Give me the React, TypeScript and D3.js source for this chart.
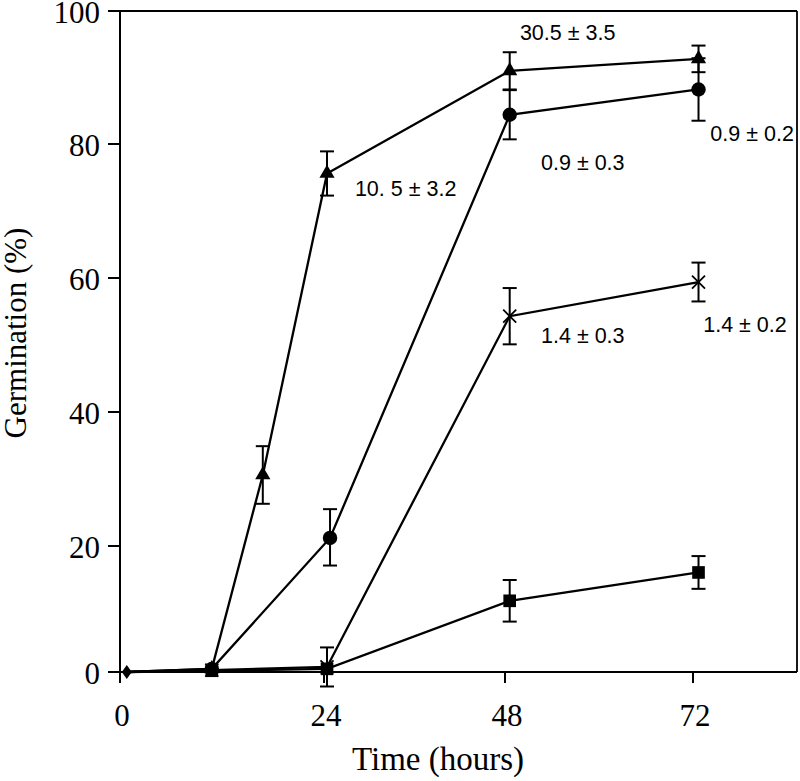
import React from 'react';
import * as d3 from 'd3';

// ---- data ----
const yTicks = [0, 20, 40, 60, 80, 100];
const xTicks = [0, 24, 48, 72];

const startHour = 0.8;
const startValue = 0;

const triHours = [0.8, 10.8, 16.8, 24.4, 48.6, 72.7];
const triValues = [0, 0.5, 30.6, 75.6, 91.0, 92.8];
const triErrors = [0, 0, 4.3, 3.3, 2.8, 2.0];

const hours = [0.8, 10.8, 24.4, 48.6, 72.7];
const circleHours = [0.8, 10.8, 24.8, 48.6, 72.7];
const circleValues = [0, 0.5, 21.2, 84.4, 88.2];
const circleErrors = [0, 0, 4.3, 3.7, 4.7];
const crossValues = [0, 0.3, 0.8, 54.3, 59.4];
const crossErrors = [0, 0, 3.1, 4.2, 2.9];
const squareValues = [0, 0.2, 0.5, 11.3, 15.8];
const squareErrors = [0, 0, 0, 3.3, 2.6];

const annoText = ['30.5 ± 3.5', '10. 5 ± 3.2', '0.9 ± 0.3', '0.9 ± 0.2', '1.4 ± 0.3', '1.4 ± 0.2'];
const annoHour = [49.9, 28.1, 52.6, 74.2, 52.6, 73.3];
const annoValue = [95.6, 72.2, 76.1, 80.5, 50.3, 51.9];

const xTitle = 'Time (hours)';
const yTitle = 'Germination (%)';

// ---- layout ----
const W = 800;
const H = 781;
const x = d3.scaleLinear().domain([0, 24, 48, 72, 85.2]).range([120, 324, 505, 693, 797]);
const y = d3.scaleLinear().domain([0, 20, 40, 60, 80, 100]).range([672, 546, 412, 278, 144, 11]);

type Pt = { h: number; v: number; e: number };
const zip = (hs: number[], vs: number[], es: number[]): Pt[] => hs.map((h, i) => ({ h, v: vs[i], e: es[i] }));

const series = [
  { key: 'tri', shape: 'triangle', pts: zip(triHours, triValues, triErrors) },
  { key: 'circle', shape: 'circle', pts: zip(circleHours, circleValues, circleErrors) },
  { key: 'cross', shape: 'cross', pts: zip(hours, crossValues, crossErrors) },
  { key: 'square', shape: 'square', pts: zip(hours, squareValues, squareErrors) },
];

const line = d3.line<Pt>().x(d => x(d.h)).y(d => y(d.v));
const triPath = d3.symbol().type(d3.symbolTriangle).size(100)() as string;
const sqPath = d3.symbol().type(d3.symbolSquare).size(160)() as string;

function Marker({ shape, cx, cy }: { shape: string; cx: number; cy: number }) {
  if (shape === 'triangle') return <path d={triPath} transform={`translate(${cx},${cy})`} fill="#000" />;
  if (shape === 'circle') return <circle cx={cx} cy={cy} r={7.2} fill="#000" />;
  if (shape === 'square') return <path d={sqPath} transform={`translate(${cx},${cy})`} fill="#000" />;
  const s = 6.5;
  return (
    <g stroke="#000" strokeWidth={1.8}>
      <line x1={cx - s} y1={cy - s} x2={cx + s} y2={cy + s} />
      <line x1={cx - s} y1={cy + s} x2={cx + s} y2={cy - s} />
    </g>
  );
}

export default function App() {
  const serif = '"Liberation Serif", "Times New Roman", serif';
  const sans = '"Liberation Sans", Arial, sans-serif';
  return (
    <svg width={W} height={H} style={{ position: 'absolute', left: 0, top: 0, background: '#fff' }}>
      <rect width={W} height={H} fill="#fff" />
      {/* frame */}
      <g stroke="#000" fill="none">
        <line x1={x(0)} x2={x(85.2)} y1={y(100)} y2={y(100)} strokeWidth={1.8} />
        <line x1={x(85.2)} x2={x(85.2)} y1={y(100)} y2={y(0)} strokeWidth={1.8} />
        <line x1={x(0)} x2={x(85.2)} y1={y(0)} y2={y(0)} strokeWidth={2} />
        <line x1={x(0)} x2={x(0)} y1={y(100)} y2={y(0)} strokeWidth={2} />
      </g>
      {/* y ticks */}
      {yTicks.map(t => (
        <g key={'y' + t}>
          <line x1={x(0) - 12} x2={x(0)} y1={y(t)} y2={y(t)} stroke="#000" strokeWidth={2} />
          <text x={x(0) - 20} y={y(t)} dy="0.4em" textAnchor="end" fontFamily={serif} fontSize={31}>{t}</text>
        </g>
      ))}
      {/* x ticks */}
      {xTicks.map(t => (
        <g key={'x' + t}>
          <line x1={x(t)} x2={x(t)} y1={y(0)} y2={y(0) + 11} stroke="#000" strokeWidth={2} />
          <text x={x(t) + 2} y={726} textAnchor="middle" fontFamily={serif} fontSize={31}>{t}</text>
        </g>
      ))}
      <text x={438} y={770} textAnchor="middle" fontFamily={serif} fontSize={33}>{xTitle}</text>
      <text transform={`translate(26,333) rotate(-90)`} textAnchor="middle" fontFamily={serif} fontSize={31}>{yTitle}</text>

      {/* lines */}
      {series.map(s => (
        <path key={'l' + s.key} d={line(s.pts) as string} fill="none" stroke="#000" strokeWidth={2.3} />
      ))}
      {/* error bars */}
      {series.map(s =>
        s.pts.filter(p => p.e > 0).map((p, i) => {
          const cx = x(p.h);
          return (
            <g key={s.key + 'e' + i} stroke="#000" strokeWidth={2}>
              <line x1={cx} x2={cx} y1={y(p.v - p.e)} y2={y(p.v + p.e)} />
              <line x1={cx - 7} x2={cx + 7} y1={y(p.v - p.e)} y2={y(p.v - p.e)} />
              <line x1={cx - 7} x2={cx + 7} y1={y(p.v + p.e)} y2={y(p.v + p.e)} />
            </g>
          );
        })
      )}
      {/* markers */}
      {series.map(s =>
        s.pts.slice(1).map((p, i) => <Marker key={s.key + 'm' + i} shape={s.shape} cx={x(p.h)} cy={y(p.v)} />)
      )}
      <path
        d={`M0,-7L5,0L0,7L-5,0Z`}
        transform={`translate(${x(startHour)},${y(startValue)})`}
        fill="#000"
      />
      {/* annotations */}
      {annoText.map((t, i) => (
        <text key={'a' + i} x={x(annoHour[i])} y={y(annoValue[i])} fontFamily={sans} fontSize={21.5}>{t}</text>
      ))}
    </svg>
  );
}
